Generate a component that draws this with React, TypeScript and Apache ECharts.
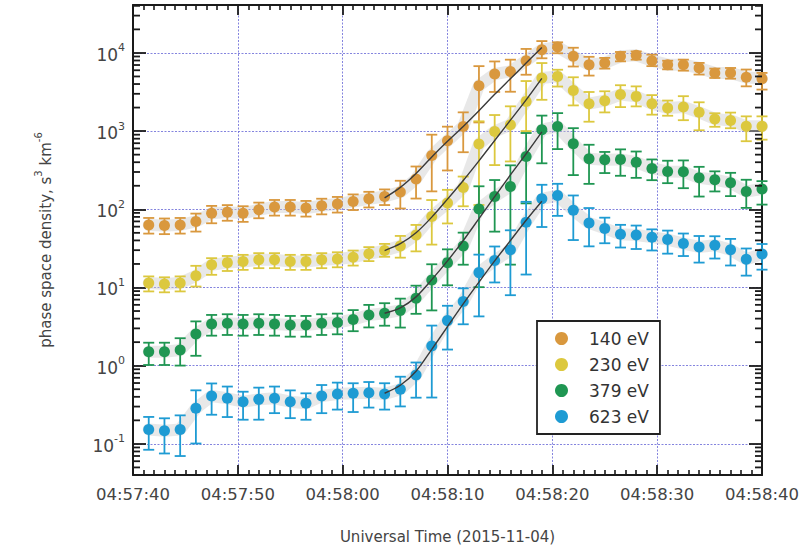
import React, { useEffect, useRef } from "react";
import * as echarts from "echarts";

const FONT = "'DejaVu Sans', 'Liberation Sans', sans-serif";

// seconds after 04:57:40
const times = [1.5, 3, 4.5, 6, 7.5, 9, 10.5, 12, 13.5, 15, 16.5, 18, 19.5, 21, 22.5, 24, 25.5, 27, 28.5, 30,
  31.5, 33, 34.5, 36, 37.5, 39, 40.5, 42, 43.5, 45, 46.5, 48, 49.5, 51, 52.5, 54, 55.5, 57, 58.5, 60];

const psd140 = [63, 62, 63, 70, 89, 92, 89, 99, 107, 107, 104, 111, 117, 126, 136, 146, 166, 244, 489, 753,
  1148, 3810, 5380, 5800, 7960, 11000, 11900, 9040, 7080, 7450, 9040, 9310, 7960, 7080, 7080, 6430, 5540, 5540, 4870, 4690];
const psd230 = [11.4, 11.1, 11.4, 14.1, 19.5, 20.8, 21.5, 22.6, 22.6, 21.5, 21.5, 22.6, 23.2, 24.4, 27, 29.7, 34, 47, 81, 120,
  190, 684, 990, 1208, 2400, 4790, 5010, 3300, 2240, 2450, 2930, 2780, 2240, 1980, 2040, 1740, 1430, 1370, 1150, 1150];
const psd379 = [1.51, 1.51, 1.59, 2.55, 3.42, 3.49, 3.42, 3.49, 3.42, 3.32, 3.32, 3.49, 3.56, 3.9, 4.46, 4.69, 5.1, 7.3, 12.5, 20.8,
  34, 101, 146, 196, 474, 1043, 1148, 688, 442, 430, 435, 400, 333, 305, 302, 253, 239, 218, 169, 182];
const psd623 = [0.153, 0.147, 0.153, 0.285, 0.41, 0.383, 0.346, 0.371, 0.383, 0.346, 0.33, 0.41, 0.435, 0.444, 0.451, 0.435, 0.5, 0.76, 1.79, 3.77,
  6.6, 15.5, 22.1, 30.3, 68.5, 136, 150, 97, 67, 57, 48, 47, 44, 41, 36.5, 33, 34.7, 30.3, 23, 26.8];

// error bar extents, in decades above / below each point
const up140 = [0.09, 0.09, 0.09, 0.1, 0.094, 0.09, 0.09, 0.09, 0.09, 0.09, 0.09, 0.09, 0.09, 0.09, 0.09, 0.09, 0.145, 0.16, 0.265, 0.18,
  0.18, 0.25, 0.16, 0.15, 0.15, 0.11, 0.06, 0.11, 0.1, 0.064, 0.056, 0.05, 0.077, 0.05, 0.064, 0.064, 0.056, 0.064, 0.1, 0.073];
const dn140 = [0.11, 0.11, 0.11, 0.13, 0.128, 0.11, 0.11, 0.11, 0.11, 0.11, 0.11, 0.11, 0.11, 0.11, 0.11, 0.11, 0.21, 0.25, 0.46, 0.38,
  0.33, 0.47, 0.23, 0.26, 0.18, 0.11, 0.08, 0.13, 0.14, 0.073, 0.064, 0.055, 0.07, 0.06, 0.077, 0.085, 0.064, 0.073, 0.115, 0.14];
const up230 = [0.085, 0.085, 0.085, 0.128, 0.085, 0.085, 0.085, 0.085, 0.085, 0.085, 0.085, 0.085, 0.085, 0.085, 0.085, 0.085, 0.128, 0.128, 0.21, 0.17,
  0.14, 0.29, 0.21, 0.235, 0.26, 0.19, 0.085, 0.17, 0.15, 0.12, 0.12, 0.128, 0.11, 0.094, 0.137, 0.128, 0.073, 0.1, 0.128, 0.128];
const dn230 = [0.107, 0.107, 0.107, 0.137, 0.128, 0.107, 0.107, 0.107, 0.107, 0.107, 0.107, 0.107, 0.107, 0.107, 0.094, 0.08, 0.15, 0.21, 0.36, 0.26,
  0.24, 0.78, 0.43, 0.47, 0.38, 0.28, 0.13, 0.19, 0.23, 0.15, 0.16, 0.128, 0.14, 0.1, 0.17, 0.23, 0.1, 0.1, 0.19, 0.17];
const up379 = [0.115, 0.115, 0.15, 0.16, 0.115, 0.115, 0.115, 0.115, 0.115, 0.115, 0.115, 0.115, 0.115, 0.12, 0.128, 0.128, 0.15, 0.16, 0.2, 0.17,
  0.17, 0.29, 0.21, 0.27, 0.3, 0.18, 0.17, 0.2, 0.18, 0.1, 0.128, 0.137, 0.115, 0.137, 0.145, 0.14, 0.107, 0.128, 0.15, 0.1];
const dn379 = [0.17, 0.17, 0.2, 0.28, 0.15, 0.15, 0.15, 0.15, 0.15, 0.15, 0.15, 0.15, 0.15, 0.15, 0.16, 0.16, 0.22, 0.2, 0.39, 0.29,
  0.24, 1.0, 0.45, 1.0, 0.6, 0.43, 0.29, 0.4, 0.32, 0.17, 0.21, 0.2, 0.15, 0.15, 0.21, 0.24, 0.15, 0.17, 0.21, 0.2];
const up623 = [0.16, 0.16, 0.18, 0.23, 0.16, 0.15, 0.128, 0.15, 0.15, 0.145, 0.128, 0.14, 0.145, 0.128, 0.137, 0.137, 0.16, 0.16, 0.26, 0.19,
  0.17, 0.23, 0.18, 0.25, 0.26, 0.18, 0.15, 0.19, 0.19, 0.137, 0.12, 0.12, 0.1, 0.115, 0.128, 0.14, 0.115, 0.14, 0.137, 0.128];
const dn623 = [0.26, 0.29, 0.34, 0.45, 0.24, 0.24, 0.23, 0.26, 0.19, 0.21, 0.21, 0.22, 0.2, 0.24, 0.19, 0.2, 0.22, 0.29, 0.66, 0.37,
  0.29, 0.56, 0.28, 0.58, 0.67, 0.36, 0.26, 0.38, 0.3, 0.19, 0.17, 0.18, 0.17, 0.18, 0.16, 0.2, 0.17, 0.2, 0.21, 0.2];

// fitted growth curves
const fitTimes = [24, 25.5, 27, 28.5, 30, 31.5, 33, 34.5, 36, 37.5, 39];
const fit140 = [140, 191, 288, 468, 741, 1148, 1820, 2951, 4677, 7413, 11749];
const fit230 = [29.7, 36.3, 50.1, 79.4, 135, 234, 417, 759, 1380, 2512, 4732];
const fit379 = [4.69, 5.5, 7.59, 12.6, 21.9, 39.8, 75.9, 145, 275, 513, 977];
const fit623 = [0.444, 0.562, 0.851, 1.62, 3.16, 6.17, 11.7, 21.9, 39.8, 72.4, 127];

const names = ["140 eV", "230 eV", "379 eV", "623 eV"];
const colors = ["#D9983E", "#DCC83E", "#1F9652", "#1E9BD3"];

const xTickLabels = ["04:57:40", "04:57:50", "04:58:00", "04:58:10", "04:58:20", "04:58:30", "04:58:40"];
const yMinorTicks = [0.05, 0.06, 0.07, 0.08, 0.09, 0.2, 0.3, 0.4, 0.5, 0.6, 0.7, 0.8, 0.9, 2, 3, 4, 5, 6, 7, 8, 9,
  20, 30, 40, 50, 60, 70, 80, 90, 200, 300, 400, 500, 600, 700, 800, 900, 2000, 3000, 4000, 5000, 6000, 7000, 8000, 9000,
  20000, 30000, 40000];

const X_MIN = 0, X_MAX = 60, Y_MIN = 0.04, Y_MAX = 41000;

const groups = [
  { v: psd140, up: up140, dn: dn140, fit: fit140 },
  { v: psd230, up: up230, dn: dn230, fit: fit230 },
  { v: psd379, up: up379, dn: dn379, fit: fit379 },
  { v: psd623, up: up623, dn: dn623, fit: fit623 },
];

const INK = "#1a1a1a";

function buildOption() {
  const series: any[] = [];
  groups.forEach((g) => {
    series.push({
      type: "line",
      data: times.map((t, i) => [t, g.v[i]]),
      showSymbol: false,
      symbol: "none",
      silent: true,
      z: 1,
      lineStyle: { width: 12, color: "rgba(200,200,200,0.42)", join: "round", cap: "round" },
    });
  });
  groups.forEach((g, gi) => {
    const color = colors[gi];
    series.push({
      type: "custom",
      silent: true,
      z: 3,
      data: times.map((t, i) => [t, g.v[i] * Math.pow(10, -g.dn[i]), g.v[i] * Math.pow(10, g.up[i])]),
      encode: { x: 0, y: [1, 2] },
      renderItem: (params: any, api: any) => {
        const lo = api.coord([api.value(0), api.value(1)]);
        const hi = api.coord([api.value(0), api.value(2)]);
        const w = 5.5;
        const style = { stroke: color, lineWidth: 1.8 };
        return {
          type: "group",
          children: [
            { type: "line", shape: { x1: lo[0], y1: lo[1], x2: hi[0], y2: hi[1] }, style },
            { type: "line", shape: { x1: lo[0] - w, y1: lo[1], x2: lo[0] + w, y2: lo[1] }, style },
            { type: "line", shape: { x1: hi[0] - w, y1: hi[1], x2: hi[0] + w, y2: hi[1] }, style },
          ],
        };
      },
    });
    series.push({
      type: "scatter",
      name: names[gi],
      z: 4,
      symbol: "circle",
      symbolSize: 11,
      itemStyle: { color, opacity: 1 },
      data: times.map((t, i) => [t, g.v[i]]),
    });
  });
  groups.forEach((g) => {
    series.push({
      type: "line",
      smooth: 0.3,
      symbol: "none",
      silent: true,
      z: 5,
      lineStyle: { color: "#3a3a3a", width: 1.4 },
      data: fitTimes.map((t, i) => [t, g.fit[i]]),
    });
  });
  // minor ticks of the logarithmic axis, on the left and right frame
  series.push({
    type: "custom",
    silent: true,
    z: 6,
    data: yMinorTicks.map((v) => [30, v]),
    encode: { x: 0, y: 1 },
    renderItem: (params: any, api: any) => {
      const v = api.value(1);
      const l = api.coord([X_MIN, v]);
      const r = api.coord([X_MAX, v]);
      const style = { stroke: INK, lineWidth: 1.8, fill: null };
      return {
        type: "group",
        children: [
          { type: "line", shape: { x1: l[0], y1: l[1], x2: l[0] + 7, y2: l[1] }, style },
          { type: "line", shape: { x1: r[0] - 7, y1: r[1], x2: r[0], y2: r[1] }, style },
        ],
      };
    },
  });

  const frameLine = () => ({ show: true, onZero: false, lineStyle: { color: INK, width: 2 } });
  const tick = (len: number) => ({ show: true, inside: true, length: len, lineStyle: { color: INK, width: 1.8 } });
  const minor = () => ({ show: true, splitNumber: 10, length: 5, lineStyle: { color: INK, width: 1.6 } });
  const grid = () => ({ show: true, lineStyle: { color: "#6f6fd8", type: [2, 1.5], width: 1, opacity: 0.85 } });

  const expLabel = (v: number) => {
    const e = Math.log10(v);
    const r = Math.round(e);
    if (Math.abs(e - r) > 0.01) return "";
    return `{b|10}{s|${r}}`;
  };

  return {
    animation: false,
    backgroundColor: "#fff",
    grid: { left: 133, right: 42, top: 5, bottom: 75, containLabel: false },
    legend: {
      data: names,
      orient: "vertical",
      left: 537,
      top: 321,
      padding: [9, 11, 9, 18],
      itemGap: 9,
      itemWidth: 13,
      itemHeight: 13,
      icon: "circle",
      backgroundColor: "#fff",
      borderColor: "#222",
      borderWidth: 1.8,
      borderRadius: 0,
      textStyle: { fontFamily: FONT, fontSize: 17, color: "#333", padding: [0, 0, 0, 16], lineHeight: 14 },
    },
    xAxis: [
      {
        type: "value",
        min: X_MIN,
        max: X_MAX,
        interval: 10,
        position: "bottom",
        axisLine: frameLine(),
        axisTick: tick(10),
        minorTick: minor(),
        splitLine: grid(),
        axisLabel: {
          margin: 11,
          fontFamily: FONT,
          fontSize: 16.5,
          color: "#444",
          formatter: (v: number) => xTickLabels[Math.round(v / 10)] ?? "",
        },
        name: "Universal Time (2015-11-04)",
        nameLocation: "middle",
        nameGap: 54,
        nameTextStyle: { fontFamily: FONT, fontSize: 15, color: "#444" },
      },
      {
        type: "value",
        min: X_MIN,
        max: X_MAX,
        interval: 10,
        position: "top",
        axisLine: frameLine(),
        axisTick: tick(10),
        minorTick: minor(),
        splitLine: { show: false },
        axisLabel: { show: false },
      },
    ],
    yAxis: [
      {
        type: "log",
        logBase: 10,
        min: Y_MIN,
        max: Y_MAX,
        position: "left",
        axisLine: frameLine(),
        axisTick: tick(13),
        splitLine: grid(),
        axisLabel: {
          margin: 8,
          showMinLabel: false,
          showMaxLabel: false,
          formatter: expLabel,
          rich: {
            b: { fontFamily: FONT, fontSize: 17, color: "#444", lineHeight: 21, verticalAlign: "bottom" },
            s: { fontFamily: FONT, fontSize: 11, color: "#444", lineHeight: 12, verticalAlign: "top" },
          },
        },
        name: "{b|phase space density, s}{s|3}{b| km}{s|-6}",
        nameLocation: "middle",
        nameRotate: 90,
        nameGap: 80,
        nameTextStyle: {
          rich: {
            b: { fontFamily: FONT, fontSize: 15, color: "#444", lineHeight: 20, verticalAlign: "bottom" },
            s: { fontFamily: FONT, fontSize: 10, color: "#444", lineHeight: 11, verticalAlign: "top" },
          },
        },
      },
      {
        type: "log",
        logBase: 10,
        min: Y_MIN,
        max: Y_MAX,
        position: "right",
        axisLine: frameLine(),
        axisTick: tick(13),
        splitLine: { show: false },
        axisLabel: { show: false },
      },
    ],
    series,
  };
}

export default function App() {
  const ref = useRef<HTMLDivElement>(null);
  useEffect(() => {
    document.body.style.margin = "0";
    const chart = echarts.init(ref.current!, null, { renderer: "svg" });
    chart.setOption(buildOption() as any);
    return () => chart.dispose();
  }, []);
  return <div ref={ref} style={{ width: 804, height: 550 }} />;
}
